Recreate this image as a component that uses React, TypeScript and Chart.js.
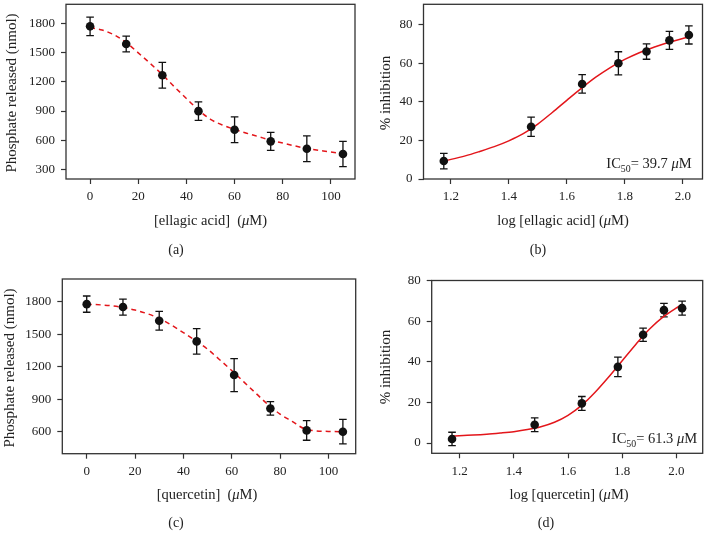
import React, { useEffect, useRef } from 'react';
import { Chart, registerables } from 'chart.js';
Chart.register(...registerables);

const FONT = "'Liberation Serif', 'Times New Roman', serif";
const AXIS_COLOR = '#333333';
const POINT_COLOR = '#111111';
const CURVE_COLOR = '#e3161b';

// ---- Panel (a): ellagic acid, phosphate released ----
const aConc = [0, 15, 30, 45, 60, 75, 90, 105];
const aPhosphate = [1773, 1591, 1269, 899, 707, 588, 512, 457];
const aErr = [95, 82, 133, 95, 133, 93, 132, 130];
const aFitX = [0, 5, 10, 15, 20, 25, 30, 35, 40, 45, 50, 55, 60, 65, 70, 75, 80, 90, 100, 105];
const aFitY = [1760, 1735, 1685, 1605, 1500, 1390, 1275, 1150, 1030, 910, 815, 755, 712, 672, 636, 600, 570, 515, 478, 460];
const aXTicks = [0, 20, 40, 60, 80, 100];
const aYTicks = [300, 600, 900, 1200, 1500, 1800];

// ---- Panel (b): ellagic acid, % inhibition ----
const bLogConc = [1.176, 1.477, 1.653, 1.778, 1.875, 1.954, 2.021];
const bInhib = [9.3, 27.1, 49.3, 60.0, 66.1, 71.9, 74.7];
const bErr = [4.0, 5.0, 4.8, 6.0, 4.0, 4.7, 4.7];
const bFitX = [1.176, 1.25, 1.3, 1.35, 1.4, 1.45, 1.5, 1.55, 1.6, 1.65, 1.7, 1.75, 1.8, 1.85, 1.9, 1.95, 2.0, 2.021];
const bFitY = [9.3, 12, 14.3, 16.8, 19.8, 23.5, 28.5, 34.5, 40.8, 47, 52.8, 57.8, 62, 65.5, 68.3, 70.8, 72.9, 73.6];
const bXTicks = [1.2, 1.4, 1.6, 1.8, 2.0];
const bYTicks = [0, 20, 40, 60, 80];

// ---- Panel (c): quercetin, phosphate released ----
const cConc = [0, 15, 30, 45.5, 61, 76, 91, 106];
const cPhosphate = [1778, 1751, 1625, 1434, 1123, 815, 612, 600];
const cErr = [75, 74, 87, 117, 152, 62, 91, 113];
const cFitX = [0, 10, 20, 30, 40, 45, 50, 55, 60, 65, 70, 75, 80, 85, 90, 95, 100, 106];
const cFitY = [1778, 1763, 1723, 1646, 1515, 1440, 1362, 1265, 1165, 1060, 955, 850, 763, 695, 628, 608, 603, 600];
const cXTicks = [0, 20, 40, 60, 80, 100];
const cYTicks = [600, 900, 1200, 1500, 1800];

// ---- Panel (d): quercetin, % inhibition ----
const dLogConc = [1.172, 1.477, 1.651, 1.784, 1.877, 1.954, 2.021];
const dInhib = [2.0, 9.0, 19.5, 37.5, 53.3, 65.4, 66.4];
const dErr = [3.3, 3.4, 3.4, 4.8, 3.3, 3.3, 3.4];
const dFitX = [1.172, 1.25, 1.3, 1.35, 1.4, 1.45, 1.5, 1.55, 1.6, 1.65, 1.7, 1.75, 1.8, 1.85, 1.9, 1.95, 2.0, 2.021];
const dFitY = [3.5, 3.9, 4.3, 4.9, 5.6, 6.6, 8.0, 10.2, 13.6, 18.5, 25, 32.5, 40.5, 48.5, 56, 62, 66.5, 68.2];
const dXTicks = [1.2, 1.4, 1.6, 1.8, 2.0];
const dYTicks = [0, 20, 40, 60, 80];

type Seg = { t: string; it?: boolean; sub?: boolean };
type Label = { x: number; y: number; segs: Seg[]; size: number; rot?: boolean; align?: 'center' | 'left' | 'right' };

type PanelCfg = {
  left: number; top: number; width: number; height: number;
  area: { l: number; t: number; r: number; b: number };
  xMin: number; xMax: number; yMin: number; yMax: number;
  xTicks: number[]; yTicks: number[]; xDec: number;
  px: number[]; py: number[]; err: number[];
  fx: number[]; fy: number[]; dashed: boolean;
  labels: Label[];
};

const mu = (pre: string): Seg[] => [{ t: pre + '(' }, { t: 'μ', it: true }, { t: 'M)' }];

const panels: PanelCfg[] = [
  {
    left: 0, top: 0, width: 360, height: 265,
    area: { l: 66, t: 4, r: 355, b: 179 },
    xMin: -10, xMax: 110, yMin: 200, yMax: 2000,
    xTicks: aXTicks, yTicks: aYTicks, xDec: 0,
    px: aConc, py: aPhosphate, err: aErr, fx: aFitX, fy: aFitY, dashed: true,
    labels: [
      { x: 11, y: 93, rot: true, size: 15, segs: [{ t: 'Phosphate released (nmol)' }] },
      { x: 210.5, y: 220, size: 14.5, segs: mu('[ellagic acid]  ') },
      { x: 176, y: 249, size: 14, segs: [{ t: '(a)' }] },
    ],
  },
  {
    left: 360, top: 0, width: 347, height: 265,
    area: { l: 63.5, t: 0.5, r: 342.5, b: 179 },
    xMin: 1.106, xMax: 2.068, yMin: 0, yMax: 90.6,
    xTicks: bXTicks, yTicks: bYTicks, xDec: 1,
    px: bLogConc, py: bInhib, err: bErr, fx: bFitX, fy: bFitY, dashed: false,
    labels: [
      { x: 25, y: 93, rot: true, size: 15, segs: [{ t: '% inhibition' }] },
      { x: 203, y: 220, size: 14.5, segs: mu('log [ellagic acid] ') },
      { x: 289, y: 163, size: 14.5, segs: [{ t: 'IC' }, { t: '50', sub: true }, { t: '= 39.7 ' }, { t: 'μ', it: true }, { t: 'M' }] },
      { x: 178, y: 249, size: 14, segs: [{ t: '(b)' }] },
    ],
  },
  {
    left: 0, top: 265, width: 360, height: 268,
    area: { l: 62.3, t: 14, r: 355.7, b: 188.7 },
    xMin: -10.1, xMax: 111.3, yMin: 397, yMax: 2010,
    xTicks: cXTicks, yTicks: cYTicks, xDec: 0,
    px: cConc, py: cPhosphate, err: cErr, fx: cFitX, fy: cFitY, dashed: true,
    labels: [
      { x: 9, y: 103, rot: true, size: 15, segs: [{ t: 'Phosphate released (nmol)' }] },
      { x: 207, y: 229, size: 14.5, segs: mu('[quercetin]  ') },
      { x: 176, y: 257, size: 14, segs: [{ t: '(c)' }] },
    ],
  },
  {
    left: 360, top: 265, width: 347, height: 268,
    area: { l: 71.7, t: 15.5, r: 346, b: 188.3 },
    xMin: 1.097, xMax: 2.097, yMin: -5.06, yMax: 80,
    xTicks: dXTicks, yTicks: dYTicks, xDec: 1,
    px: dLogConc, py: dInhib, err: dErr, fx: dFitX, fy: dFitY, dashed: false,
    labels: [
      { x: 25, y: 102, rot: true, size: 15, segs: [{ t: '% inhibition' }] },
      { x: 209, y: 229, size: 14.5, segs: mu('log [quercetin] ') },
      { x: 294.5, y: 173, size: 14.5, segs: [{ t: 'IC' }, { t: '50', sub: true }, { t: '= 61.3 ' }, { t: 'μ', it: true }, { t: 'M' }] },
      { x: 186, y: 257, size: 14, segs: [{ t: '(d)' }] },
    ],
  },
];

function segFont(s: Seg, size: number) {
  const sz = s.sub ? size * 0.68 : size;
  return `${s.it ? 'italic ' : ''}${sz}px ${FONT}`;
}

function drawRich(ctx: CanvasRenderingContext2D, lab: Label) {
  ctx.save();
  ctx.translate(lab.x, lab.y);
  if (lab.rot) ctx.rotate(-Math.PI / 2);
  const widths = lab.segs.map((s) => {
    ctx.font = segFont(s, lab.size);
    return ctx.measureText(s.t).width;
  });
  const total = widths.reduce((a, b) => a + b, 0);
  const align = lab.align || 'center';
  let x = align === 'center' ? -total / 2 : align === 'right' ? -total : 0;
  ctx.fillStyle = '#222222';
  ctx.textBaseline = 'alphabetic';
  const base = lab.size * 0.33;
  lab.segs.forEach((s, i) => {
    ctx.font = segFont(s, lab.size);
    ctx.fillText(s.t, x, base + (s.sub ? lab.size * 0.28 : 0));
    x += widths[i];
  });
  ctx.restore();
}

function Panel({ cfg }: { cfg: PanelCfg }) {
  const ref = useRef<HTMLCanvasElement | null>(null);
  useEffect(() => {
    const canvas = ref.current;
    if (!canvas) return;
    const decorPlugin = {
      id: 'decor',
      beforeDatasetsDraw(chart: any) {
        const ctx = chart.ctx as CanvasRenderingContext2D;
        const xs = chart.scales.x;
        const ys = chart.scales.y;
        ctx.save();
        ctx.strokeStyle = POINT_COLOR;
        ctx.lineWidth = 1.3;
        cfg.px.forEach((xv, i) => {
          const x = xs.getPixelForValue(xv);
          const y1 = ys.getPixelForValue(cfg.py[i] + cfg.err[i]);
          const y2 = ys.getPixelForValue(cfg.py[i] - cfg.err[i]);
          ctx.beginPath();
          ctx.moveTo(x, y1); ctx.lineTo(x, y2);
          ctx.moveTo(x - 3.8, y1); ctx.lineTo(x + 3.8, y1);
          ctx.moveTo(x - 3.8, y2); ctx.lineTo(x + 3.8, y2);
          ctx.stroke();
        });
        ctx.restore();
      },
      afterDraw(chart: any) {
        const ctx = chart.ctx as CanvasRenderingContext2D;
        const a = chart.chartArea;
        ctx.save();
        ctx.strokeStyle = AXIS_COLOR;
        ctx.lineWidth = 1.3;
        ctx.strokeRect(a.left, a.top, a.right - a.left, a.bottom - a.top);
        ctx.restore();
        cfg.labels.forEach((l) => drawRich(ctx, l));
      },
    };
    const tickFont = { family: FONT, size: 13 };
    const chart = new Chart(canvas, {
      type: 'scatter',
      data: {
        datasets: [
          {
            type: 'scatter',
            data: cfg.px.map((x, i) => ({ x, y: cfg.py[i] })),
            pointRadius: 4.3,
            pointBackgroundColor: POINT_COLOR,
            pointBorderWidth: 0,
            order: 0,
          },
          {
            type: 'line',
            data: cfg.fx.map((x, i) => ({ x, y: cfg.fy[i] })),
            borderColor: CURVE_COLOR,
            borderWidth: 1.5,
            borderDash: cfg.dashed ? [5, 4] : [],
            pointRadius: 0,
            fill: false,
            cubicInterpolationMode: 'monotone',
            order: 1,
          } as any,
        ],
      },
      options: {
        animation: false,
        responsive: false,
        maintainAspectRatio: false,
        devicePixelRatio: 1,
        layout: {
          padding: { left: 0, top: cfg.area.t, right: cfg.width - cfg.area.r, bottom: 0 },
        },
        plugins: { legend: { display: false }, tooltip: { enabled: false } },
        scales: {
          x: {
            type: 'linear',
            min: cfg.xMin,
            max: cfg.xMax,
            afterBuildTicks: (s: any) => { s.ticks = cfg.xTicks.map((v) => ({ value: v })); },
            afterFit: (s: any) => {
              s.height = cfg.height - cfg.area.b;
              s.paddingLeft = 0; s.paddingRight = 0;
            },
            ticks: {
              font: tickFont,
              color: '#222222',
              padding: 5,
              maxRotation: 0,
              autoSkip: false,
              callback: (v: any) => Number(v).toFixed(cfg.xDec),
            },
            grid: { display: true, drawOnChartArea: false, drawTicks: true, tickLength: 5, tickColor: AXIS_COLOR, tickWidth: 1.2 },
            border: { display: false },
          },
          y: {
            type: 'linear',
            min: cfg.yMin,
            max: cfg.yMax,
            afterBuildTicks: (s: any) => { s.ticks = cfg.yTicks.map((v) => ({ value: v })); },
            afterFit: (s: any) => {
              s.width = cfg.area.l;
              s.paddingTop = 0; s.paddingBottom = 0;
            },
            ticks: {
              font: tickFont,
              color: '#222222',
              padding: 6,
              autoSkip: false,
              callback: (v: any) => String(v),
            },
            grid: { display: true, drawOnChartArea: false, drawTicks: true, tickLength: 5, tickColor: AXIS_COLOR, tickWidth: 1.2 },
            border: { display: false },
          },
        },
      } as any,
      plugins: [decorPlugin],
    });
    return () => chart.destroy();
  }, [cfg]);
  return (
    <canvas
      ref={ref}
      width={cfg.width}
      height={cfg.height}
      style={{ position: 'absolute', left: cfg.left, top: cfg.top, width: cfg.width, height: cfg.height }}
    />
  );
}

export default function App() {
  return (
    <div style={{ position: 'fixed', left: 0, top: 0, width: 707, height: 533, background: '#ffffff' }}>
      {panels.map((p, i) => (
        <Panel key={i} cfg={p} />
      ))}
    </div>
  );
}
